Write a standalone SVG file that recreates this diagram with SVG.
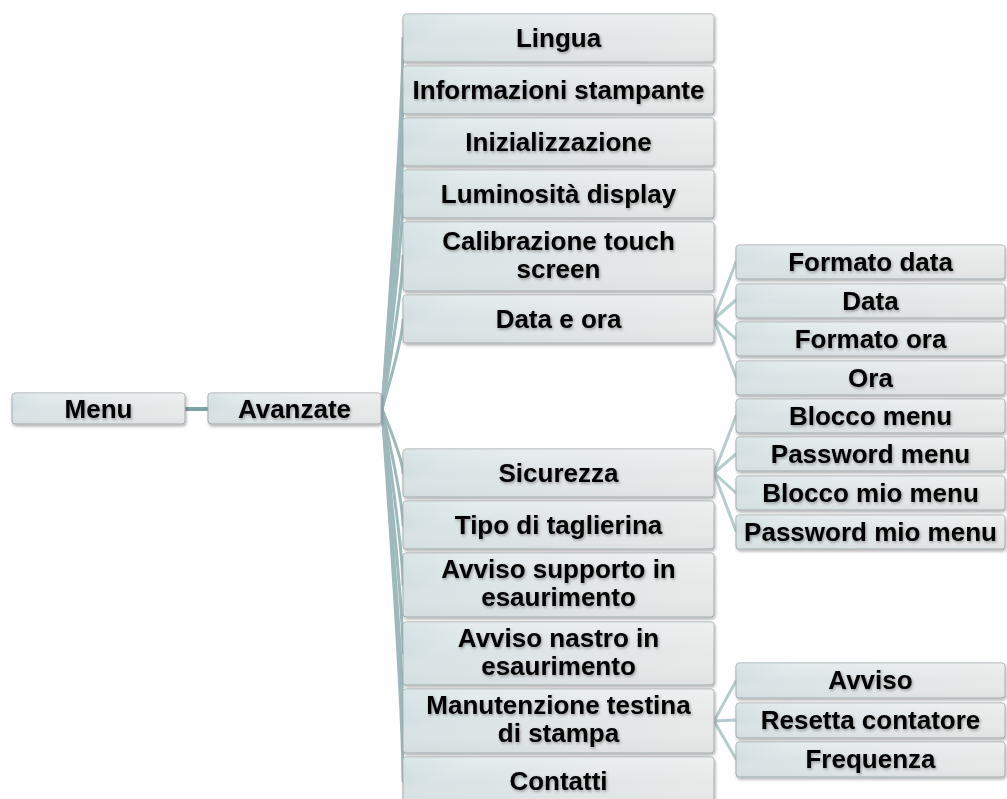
<svg xmlns="http://www.w3.org/2000/svg" width="1007" height="799" viewBox="0 0 1007 799">
  <defs>
    <linearGradient id="boxFill" x1="0" y1="0" x2="1" y2="0.3">
      <stop offset="0" stop-color="#c6d8db"/>
      <stop offset="0.22" stop-color="#d9e3e5"/>
      <stop offset="1" stop-color="#e7e8e8"/>
    </linearGradient>
    <linearGradient id="boxGloss" x1="0" y1="0" x2="0" y2="1">
      <stop offset="0" stop-color="#ffffff" stop-opacity="0.35"/>
      <stop offset="0.5" stop-color="#ffffff" stop-opacity="0"/>
      <stop offset="1" stop-color="#9fb0b3" stop-opacity="0.12"/>
    </linearGradient>
    <filter id="boxShadow" x="-5%" y="-20%" width="110%" height="150%">
      <feDropShadow dx="1" dy="2" stdDeviation="1.5" flood-color="#000" flood-opacity="0.3"/>
    </filter>
    <filter id="textShadow" x="-10%" y="-30%" width="120%" height="160%">
      <feDropShadow dx="1" dy="1.5" stdDeviation="1.5" flood-color="#000" flood-opacity="0.35"/>
    </filter>
  </defs>
  <style>
    .box { fill: url(#boxFill); stroke: #a3abad; stroke-width: 1; filter: url(#boxShadow); }
    .gloss { fill: url(#boxGloss); stroke: none; }
    .lbl { font-family: "Liberation Sans", Arial, sans-serif; font-weight: bold; font-size: 26px; fill: #000; text-anchor: middle; filter: url(#textShadow); }
    .link { stroke: #9db9bc; stroke-width: 3; fill: none; stroke-linecap: round; }
    .sub { stroke: #b6cdce; }
    .main { stroke: #7fa2a5; stroke-width: 4; }
  </style>
  <rect width="1007" height="799" fill="#ffffff"/>

  <!-- connectors -->
  <g id="connectors">
    <line class="link main" x1="185" y1="409" x2="208" y2="409"/>
    <!-- Avanzate fan-out: each branch bends to meet its box edge upright -->
    <path class="link" d="M382,409 Q403,112 403,38"/>
    <path class="link" d="M382,409 Q403,154 403,90"/>
    <path class="link" d="M382,409 Q403,195 403,142"/>
    <path class="link" d="M382,409 Q403,237 403,194"/>
    <path class="link" d="M382,409 Q403,287 403,256"/>
    <path class="link" d="M382,409 Q403,337 403,320"/>
    <path class="link" d="M382,409 Q403,460 403,473"/>
    <path class="link" d="M382,409 Q403,502 403,525"/>
    <path class="link" d="M382,409 Q403,550 403,585"/>
    <path class="link" d="M382,409 Q403,604 403,653"/>
    <path class="link" d="M382,409 Q403,659 403,721"/>
    <path class="link" d="M382,409 Q403,706 403,781"/>
    <!-- Data e ora -->
    <line class="link sub" x1="714" y1="319" x2="736" y2="262"/>
    <line class="link sub" x1="714" y1="319" x2="736" y2="300"/>
    <line class="link sub" x1="714" y1="319" x2="736" y2="339"/>
    <line class="link sub" x1="714" y1="319" x2="736" y2="377"/>
    <!-- Sicurezza -->
    <line class="link sub" x1="714" y1="473" x2="736" y2="416"/>
    <line class="link sub" x1="714" y1="473" x2="736" y2="454"/>
    <line class="link sub" x1="714" y1="473" x2="736" y2="493"/>
    <line class="link sub" x1="714" y1="473" x2="736" y2="531"/>
    <!-- Manutenzione -->
    <line class="link sub" x1="714" y1="721" x2="736" y2="681"/>
    <line class="link sub" x1="714" y1="721" x2="736" y2="720"/>
    <line class="link sub" x1="714" y1="721" x2="736" y2="759"/>
  </g>

  <!-- root nodes -->
  <g id="n-menu">
    <rect class="box" x="12" y="393" width="173" height="31" rx="3"/>
    <rect class="gloss" x="12" y="393" width="173" height="31" rx="3"/>
    <text class="lbl" x="98.5" y="418">Menu</text>
  </g>
  <g id="n-avanzate">
    <rect class="box" x="208" y="393" width="173" height="31" rx="3"/>
    <rect class="gloss" x="208" y="393" width="173" height="31" rx="3"/>
    <text class="lbl" x="294.5" y="418">Avanzate</text>
  </g>

  <!-- second level -->
  <g id="n-lingua">
    <rect class="box" x="403" y="14" width="311" height="48" rx="3"/>
    <rect class="gloss" x="403" y="14" width="311" height="48" rx="3"/>
    <text class="lbl" x="558.5" y="47">Lingua</text>
  </g>
  <g id="n-info">
    <rect class="box" x="403" y="66" width="311" height="48" rx="3"/>
    <rect class="gloss" x="403" y="66" width="311" height="48" rx="3"/>
    <text class="lbl" x="558.5" y="99">Informazioni stampante</text>
  </g>
  <g id="n-init">
    <rect class="box" x="403" y="118" width="311" height="48" rx="3"/>
    <rect class="gloss" x="403" y="118" width="311" height="48" rx="3"/>
    <text class="lbl" x="558.5" y="151">Inizializzazione</text>
  </g>
  <g id="n-lum">
    <rect class="box" x="403" y="170" width="311" height="48" rx="3"/>
    <rect class="gloss" x="403" y="170" width="311" height="48" rx="3"/>
    <text class="lbl" x="558.5" y="203">Luminosità display</text>
  </g>
  <g id="n-calib">
    <rect class="box" x="403" y="222" width="311" height="69" rx="3"/>
    <rect class="gloss" x="403" y="222" width="311" height="69" rx="3"/>
    <text class="lbl" x="558.5" y="250">Calibrazione touch<tspan x="558.5" dy="28">screen</tspan></text>
  </g>
  <g id="n-dataora">
    <rect class="box" x="403" y="295" width="311" height="48" rx="3"/>
    <rect class="gloss" x="403" y="295" width="311" height="48" rx="3"/>
    <text class="lbl" x="558.5" y="328">Data e ora</text>
  </g>
  <g id="n-sicurezza">
    <rect class="box" x="403" y="449" width="311" height="48" rx="3"/>
    <rect class="gloss" x="403" y="449" width="311" height="48" rx="3"/>
    <text class="lbl" x="558.5" y="482">Sicurezza</text>
  </g>
  <g id="n-taglierina">
    <rect class="box" x="403" y="501" width="311" height="48" rx="3"/>
    <rect class="gloss" x="403" y="501" width="311" height="48" rx="3"/>
    <text class="lbl" x="558.5" y="534">Tipo di taglierina</text>
  </g>
  <g id="n-supporto">
    <rect class="box" x="403" y="553" width="311" height="64" rx="3"/>
    <rect class="gloss" x="403" y="553" width="311" height="64" rx="3"/>
    <text class="lbl" x="558.5" y="578">Avviso supporto in<tspan x="558.5" dy="28">esaurimento</tspan></text>
  </g>
  <g id="n-nastro">
    <rect class="box" x="403" y="622" width="311" height="63" rx="3"/>
    <rect class="gloss" x="403" y="622" width="311" height="63" rx="3"/>
    <text class="lbl" x="558.5" y="647">Avviso nastro in<tspan x="558.5" dy="28">esaurimento</tspan></text>
  </g>
  <g id="n-manutenzione">
    <rect class="box" x="403" y="689" width="311" height="64" rx="3"/>
    <rect class="gloss" x="403" y="689" width="311" height="64" rx="3"/>
    <text class="lbl" x="558.5" y="714">Manutenzione testina<tspan x="558.5" dy="28">di stampa</tspan></text>
  </g>
  <g id="n-contatti">
    <rect class="box" x="403" y="757" width="311" height="49" rx="3"/>
    <rect class="gloss" x="403" y="757" width="311" height="49" rx="3"/>
    <text class="lbl" x="558.5" y="790">Contatti</text>
  </g>

  <!-- third level: Data e ora -->
  <g id="n-formatodata">
    <rect class="box" x="736" y="245" width="269" height="34" rx="3"/>
    <rect class="gloss" x="736" y="245" width="269" height="34" rx="3"/>
    <text class="lbl" x="870.5" y="271">Formato data</text>
  </g>
  <g id="n-data">
    <rect class="box" x="736" y="284" width="269" height="34" rx="3"/>
    <rect class="gloss" x="736" y="284" width="269" height="34" rx="3"/>
    <text class="lbl" x="870.5" y="310">Data</text>
  </g>
  <g id="n-formatoora">
    <rect class="box" x="736" y="322" width="269" height="34" rx="3"/>
    <rect class="gloss" x="736" y="322" width="269" height="34" rx="3"/>
    <text class="lbl" x="870.5" y="348">Formato ora</text>
  </g>
  <g id="n-ora">
    <rect class="box" x="736" y="361" width="269" height="34" rx="3"/>
    <rect class="gloss" x="736" y="361" width="269" height="34" rx="3"/>
    <text class="lbl" x="870.5" y="387">Ora</text>
  </g>

  <!-- third level: Sicurezza -->
  <g id="n-bloccomenu">
    <rect class="box" x="736" y="399" width="269" height="34" rx="3"/>
    <rect class="gloss" x="736" y="399" width="269" height="34" rx="3"/>
    <text class="lbl" x="870.5" y="425">Blocco menu</text>
  </g>
  <g id="n-pwdmenu">
    <rect class="box" x="736" y="437" width="269" height="34" rx="3"/>
    <rect class="gloss" x="736" y="437" width="269" height="34" rx="3"/>
    <text class="lbl" x="870.5" y="463">Password menu</text>
  </g>
  <g id="n-bloccomio">
    <rect class="box" x="736" y="476" width="269" height="34" rx="3"/>
    <rect class="gloss" x="736" y="476" width="269" height="34" rx="3"/>
    <text class="lbl" x="870.5" y="502">Blocco mio menu</text>
  </g>
  <g id="n-pwdmio">
    <rect class="box" x="736" y="515" width="269" height="34" rx="3"/>
    <rect class="gloss" x="736" y="515" width="269" height="34" rx="3"/>
    <text class="lbl" x="870.5" y="541">Password mio menu</text>
  </g>

  <!-- third level: Manutenzione -->
  <g id="n-avviso">
    <rect class="box" x="736" y="663" width="269" height="35" rx="3"/>
    <rect class="gloss" x="736" y="663" width="269" height="35" rx="3"/>
    <text class="lbl" x="870.5" y="689">Avviso</text>
  </g>
  <g id="n-resetta">
    <rect class="box" x="736" y="703" width="269" height="35" rx="3"/>
    <rect class="gloss" x="736" y="703" width="269" height="35" rx="3"/>
    <text class="lbl" x="870.5" y="729">Resetta contatore</text>
  </g>
  <g id="n-frequenza">
    <rect class="box" x="736" y="742" width="269" height="35" rx="3"/>
    <rect class="gloss" x="736" y="742" width="269" height="35" rx="3"/>
    <text class="lbl" x="870.5" y="768">Frequenza</text>
  </g>
</svg>
